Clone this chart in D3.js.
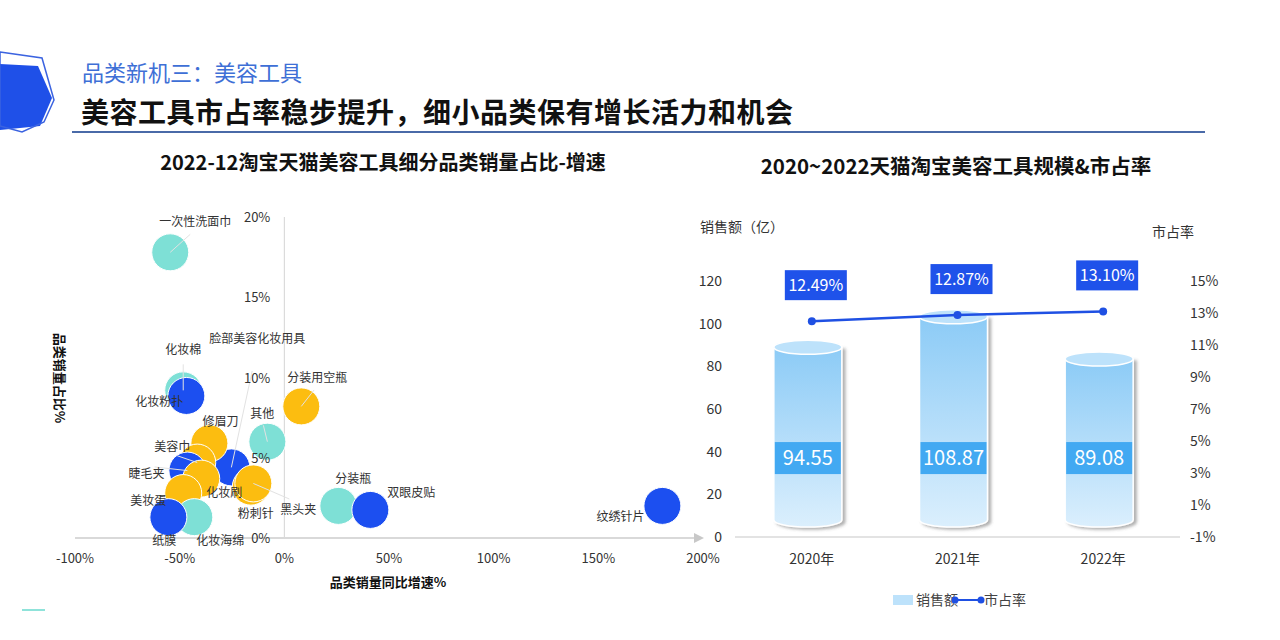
<!DOCTYPE html>
<html>
<head>
<meta charset="utf-8">
<script src="https://cdn.jsdelivr.net/npm/d3@7"></script>
<style>
  body { margin: 0; background: #fff; }
  svg { font-family: "Noto Sans CJK SC", "Noto Sans", sans-serif; }
</style>
</head>
<body>
<svg id="chart" width="1280" height="640"></svg>
<script>
// bubble chart data
const bubbleNames = ["一次性洗面巾", "化妆棉", "化妆粉扑", "脸部美容化妆用具", "分装用空瓶", "其他", "修眉刀", "美容巾",
    "睫毛夹", "化妆刷", "美妆蛋", "粉刺针", "黑头夹", "化妆海绵", "纸膜", "分装瓶", "双眼皮贴", "纹绣针片"];
const bubbleGrowth = [-54.5, -48.3, -46.8, -25.3, 8.1, -8.1, -35.8, -41.6, -46.3, -39.7, -48.3, -16.0, -14.8, -43.0, -55.4, 25.8, 41.1, 180.6];
const bubbleShare = [17.8, 9.2, 8.85, 4.4, 8.2, 6.0, 5.9, 4.7, 4.2, 3.7, 2.8, 3.2, 3.4, 1.3, 1.3, 2.0, 1.75, 2.0];
const bubbleGroup = ["t", "t", "b", "b", "y", "t", "y", "y", "b", "y", "y", "y", "y", "t", "b", "t", "b", "b"];
const growthTicks = [-100, -50, 0, 50, 100, 150, 200];
const shareTicks = [0, 5, 10, 15, 20];

// bar + line data
const years = ["2020年", "2021年", "2022年"];
const sales = [94.55, 108.87, 89.08];
const shareRate = [12.49, 12.87, 13.10];
const salesTicks = [0, 20, 40, 60, 80, 100, 120];
const rateTicks = [-1, 1, 3, 5, 7, 9, 11, 13, 15];

const svg = d3.select("#chart");
const defs = svg.append("defs");

// ---------- header ----------
svg.append("polygon")
    .attr("points", "0,64 38,66 52,98 40,126 0,130")
    .attr("fill", "#1f50e8");
svg.append("polygon")
    .attr("points", "0,52 42,58 54,100 44,122 22,132 0,126")
    .attr("fill", "none").attr("stroke", "#3b63e0").attr("stroke-width", 1.5);

svg.append("text").attr("x", 82).attr("y", 81)
    .attr("font-size", 22).attr("fill", "#3e6fd6")
    .text("品类新机三：美容工具");
svg.append("text").attr("x", 81).attr("y", 123)
    .attr("font-size", 28).attr("font-weight", "bold").attr("fill", "#111")
    .attr("letter-spacing", 0.5)
    .text("美容工具市占率稳步提升，细小品类保有增长活力和机会");
svg.append("line").attr("x1", 72).attr("x2", 1205).attr("y1", 132).attr("y2", 132)
    .attr("stroke", "#4a6aa8").attr("stroke-width", 2);

svg.append("line").attr("x1", 22).attr("x2", 45).attr("y1", 610).attr("y2", 610)
    .attr("stroke", "#8fe3da").attr("stroke-width", 2);

// ---------- bubble chart ----------
svg.append("text").attr("x", 383).attr("y", 170).attr("text-anchor", "middle")
    .attr("font-size", 20).attr("font-weight", "bold").attr("fill", "#111")
    .text("2022-12淘宝天猫美容工具细分品类销量占比-增速");

const x = d3.scaleLinear().domain([-100, 200]).range([75, 703]);
const y = d3.scaleLinear().domain([0, 20]).range([538, 217]);
const colors = { t: "#7ee0d6", b: "#1c4ff0", y: "#fcbd10" };

defs.append("marker").attr("id", "arrow")
    .attr("viewBox", "0 0 10 10").attr("refX", 5).attr("refY", 5)
    .attr("markerWidth", 5).attr("markerHeight", 5).attr("orient", "auto")
    .append("path").attr("d", "M0,0 L10,5 L0,10 Z").attr("fill", "#c8c8c8");

svg.append("line").attr("x1", x(0)).attr("x2", x(0)).attr("y1", y(20)).attr("y2", y(0))
    .attr("stroke", "#d4d4d4").attr("stroke-width", 1);
svg.append("line").attr("x1", x(-100)).attr("x2", x(200) - 4).attr("y1", y(0)).attr("y2", y(0))
    .attr("stroke", "#d9d9d9").attr("stroke-width", 2).attr("marker-end", "url(#arrow)");

svg.selectAll(".xt").data(growthTicks).enter().append("text")
    .attr("x", d => x(d)).attr("y", 563).attr("text-anchor", "middle")
    .attr("font-size", 13).attr("fill", "#333")
    .text(d => d + "%");

svg.append("text").attr("x", 388).attr("y", 587).attr("text-anchor", "middle")
    .attr("font-size", 13).attr("font-weight", "bold").attr("fill", "#111")
    .text("品类销量同比增速%");
svg.append("text").attr("transform", "translate(55,378) rotate(90)").attr("text-anchor", "middle")
    .attr("font-size", 13).attr("font-weight", "bold").attr("fill", "#111")
    .text("品类销量占比%");

const bubbles = bubbleNames.map((n, i) => ({ name: n, gx: bubbleGrowth[i], sy: bubbleShare[i], g: bubbleGroup[i] }));

// label offsets relative to bubble centre (dx, dy, leader)
const labelPos = {
    "一次性洗面巾": [25, -30, true], "化妆棉": [0, -40, true], "化妆粉扑": [-27, 6, false],
    "脸部美容化妆用具": [26, -128, true], "分装用空瓶": [16, -28, true], "其他": [-5, -28, true],
    "修眉刀": [11, -21, false], "美容巾": [-25, -16, true], "睫毛夹": [-41, 3, true],
    "化妆刷": [23, 14, false], "美妆蛋": [-35, 8, false], "粉刺针": [5, 27, false],
    "黑头夹": [45, 27, true], "化妆海绵": [26, 24, false], "纸膜": [-4, 24, false],
    "分装瓶": [15, -27, false], "双眼皮贴": [41, -17, false], "纹绣针片": [-42, 11, false]
};

const bg = svg.append("g");
bg.selectAll("circle").data(bubbles).enter().append("circle")
    .attr("cx", d => x(d.gx)).attr("cy", d => y(d.sy)).attr("r", 18.5)
    .attr("fill", d => colors[d.g]).attr("stroke", "#fff").attr("stroke-width", 1);
// leader lines
bubbles.forEach(d => {
    const cx = x(d.gx), cy = y(d.sy);
    const p = labelPos[d.name];
    if (p[2]) {
        svg.append("line").attr("x1", cx).attr("y1", cy)
            .attr("x2", cx + p[0] * 0.8).attr("y2", cy + p[1] * 0.8 + (p[1] < 0 ? 6 : -6))
            .attr("stroke", "#e2e2e2").attr("stroke-width", 1);
    }
});
svg.append("g").selectAll("text").data(bubbles).enter().append("text")
    .attr("x", d => x(d.gx) + labelPos[d.name][0])
    .attr("y", d => y(d.sy) + labelPos[d.name][1] + 4)
    .attr("text-anchor", "middle").attr("font-size", 12).attr("fill", "#333")
    .text(d => d.name);

// y tick labels sit above the bubbles
svg.selectAll(".yt").data(shareTicks).enter().append("text")
    .attr("x", x(0) - 14).attr("y", d => y(d) + 5).attr("text-anchor", "end")
    .attr("font-size", 13).attr("fill", "#333")
    .text(d => d + "%");

// ---------- bar + line chart ----------
svg.append("text").attr("x", 956).attr("y", 174).attr("text-anchor", "middle")
    .attr("font-size", 20.5).attr("font-weight", "bold").attr("fill", "#111")
    .text("2020~2022天猫淘宝美容工具规模&市占率");

const xb = d3.scaleBand().domain(years).range([739, 1176]);
const ys = d3.scaleLinear().domain([0, 120]).range([537, 281]);
const yr = d3.scaleLinear().domain([-1, 15]).range([537, 281]);

svg.append("text").attr("x", 700).attr("y", 232).attr("font-size", 14).attr("fill", "#333").text("销售额（亿）");
svg.append("text").attr("x", 1152).attr("y", 237).attr("font-size", 14).attr("fill", "#333").text("市占率");

svg.selectAll(".ls").data(salesTicks).enter().append("text")
    .attr("x", 722).attr("y", d => ys(d) + 5).attr("text-anchor", "end")
    .attr("font-size", 14).attr("fill", "#333").text(d => d);
svg.selectAll(".rs").data(rateTicks).enter().append("text")
    .attr("x", 1190).attr("y", d => yr(d) + 5)
    .attr("font-size", 14).attr("fill", "#333").text(d => d + "%");

svg.append("line").attr("x1", 735).attr("x2", 1180).attr("y1", ys(0)).attr("y2", ys(0))
    .attr("stroke", "#e3e3e3").attr("stroke-width", 2);

svg.selectAll(".xl").data(years).enter().append("text")
    .attr("x", d => xb(d) + xb.bandwidth() / 2).attr("y", 564).attr("text-anchor", "middle")
    .attr("font-size", 14).attr("fill", "#333").text(d => d);

const grad = defs.append("linearGradient").attr("id", "cyl").attr("x1", 0).attr("y1", 0).attr("x2", 0).attr("y2", 1);
grad.append("stop").attr("offset", "0%").attr("stop-color", "#8ccbf6");
grad.append("stop").attr("offset", "100%").attr("stop-color", "#dbeffd");
const shadow = defs.append("filter").attr("id", "shadow").attr("x", "-20%").attr("y", "-10%").attr("width", "140%").attr("height", "130%");
shadow.append("feDropShadow").attr("dx", 3).attr("dy", 2).attr("stdDeviation", 1.5)
    .attr("flood-color", "#555").attr("flood-opacity", 0.45);

const rx = 34, ry = 7;
const cyl = svg.append("g").selectAll("g").data(years).enter().append("g");
cyl.append("path")
    .attr("filter", "url(#shadow)")
    .attr("fill", "url(#cyl)").attr("stroke", "#fff").attr("stroke-width", 1.5)
    .attr("d", (d, i) => {
        const c = xb(d) + xb.bandwidth() / 2 - 4;
        const top = ys(sales[i]) + 12, bot = ys(0) - 17;
        return `M${c - rx},${top} L${c - rx},${bot} A${rx},${ry} 0 0 0 ${c + rx},${bot} L${c + rx},${top} Z`;
    });
cyl.append("ellipse")
    .attr("cx", d => xb(d) + xb.bandwidth() / 2 - 4)
    .attr("cy", (d, i) => ys(sales[i]) + 12)
    .attr("rx", rx).attr("ry", ry)
    .attr("fill", "#bde2fb").attr("stroke", "#fff").attr("stroke-width", 1.5);
cyl.append("rect")
    .attr("x", d => xb(d) + xb.bandwidth() / 2 - 4 - rx + 1).attr("y", ys(37) - 16)
    .attr("width", rx * 2 - 2).attr("height", 32).attr("fill", "#42a9f2");
cyl.append("text")
    .attr("x", d => xb(d) + xb.bandwidth() / 2 - 4).attr("y", ys(37) + 7)
    .attr("text-anchor", "middle").attr("font-size", 20).attr("fill", "#fff")
    .text((d, i) => sales[i].toFixed(2));

const line = d3.line().x((d, i) => xb(years[i]) + xb.bandwidth() / 2).y(d => yr(d));
svg.append("path").datum(shareRate).attr("d", line)
    .attr("fill", "none").attr("stroke", "#1f50e3").attr("stroke-width", 2.5);
svg.selectAll(".pt").data(shareRate).enter().append("circle")
    .attr("cx", (d, i) => xb(years[i]) + xb.bandwidth() / 2).attr("cy", d => yr(d)).attr("r", 4)
    .attr("fill", "#1f50e3");
const pl = svg.append("g").selectAll("g").data(shareRate).enter().append("g")
    .attr("transform", (d, i) => `translate(${xb(years[i]) + xb.bandwidth() / 2 + 4},${yr(d) - 36})`);
pl.append("rect").attr("x", -31).attr("y", -15).attr("width", 62).attr("height", 30).attr("fill", "#1f52ea");
pl.append("text").attr("y", 6).attr("text-anchor", "middle").attr("font-size", 16).attr("fill", "#fff")
    .text(d => d.toFixed(2) + "%");

// legend
const lg = svg.append("g");
lg.append("rect").attr("x", 893).attr("y", 595).attr("width", 20).attr("height", 10).attr("fill", "#bde2fb");
lg.append("text").attr("x", 916).attr("y", 605).attr("font-size", 14).attr("fill", "#444").text("销售额");
lg.append("line").attr("x1", 955).attr("x2", 981).attr("y1", 600).attr("y2", 600)
    .attr("stroke", "#1f50e3").attr("stroke-width", 2);
lg.append("circle").attr("cx", 955).attr("cy", 600).attr("r", 3.5).attr("fill", "#1f50e3");
lg.append("circle").attr("cx", 981).attr("cy", 600).attr("r", 3.5).attr("fill", "#1f50e3");
lg.append("text").attr("x", 984).attr("y", 605).attr("font-size", 14).attr("fill", "#444").text("市占率");
</script>
</body>
</html>
